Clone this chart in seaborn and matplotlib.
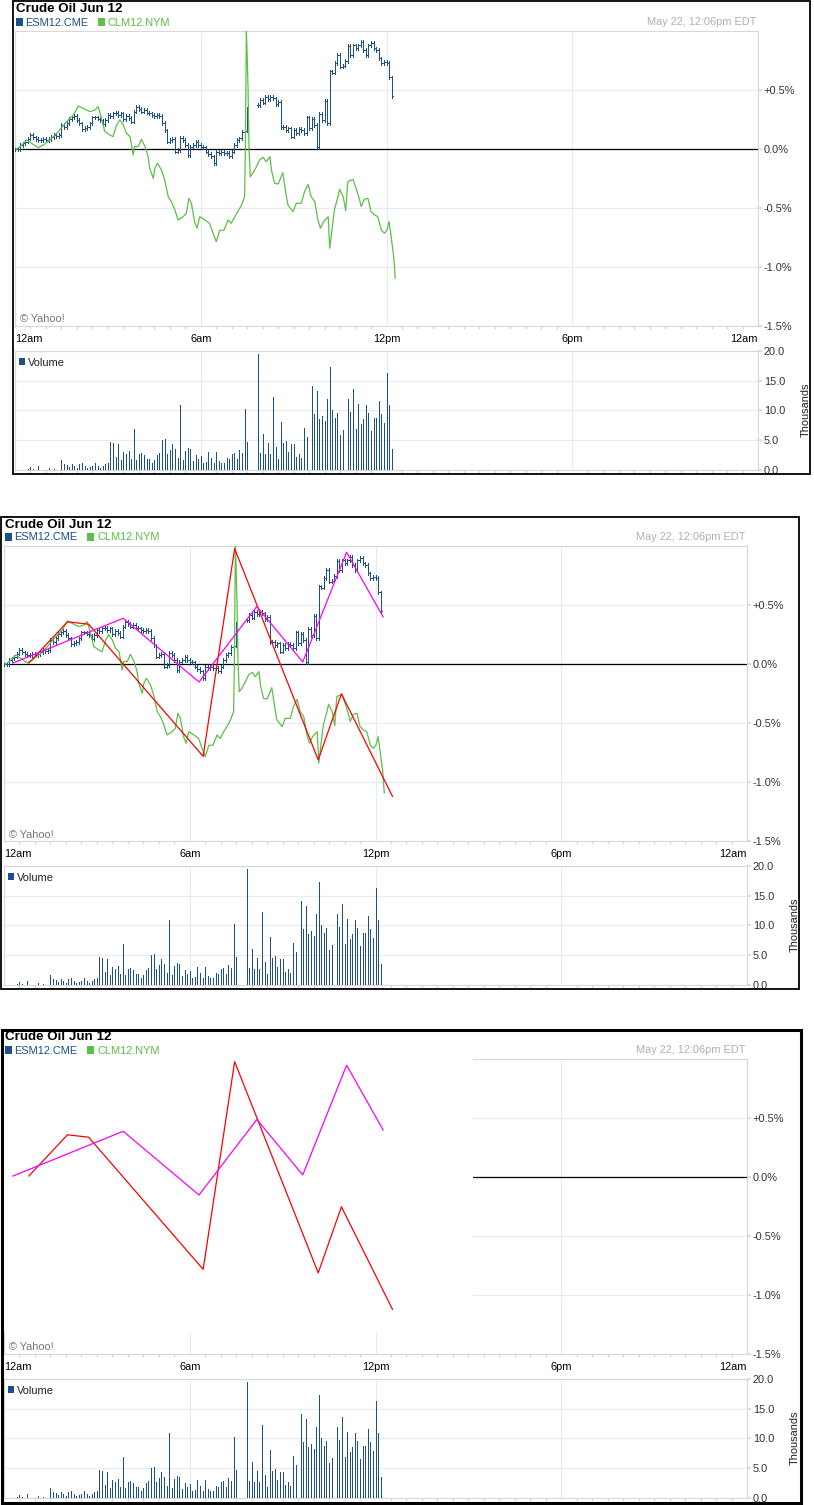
import numpy as np
import pandas as pd
import matplotlib
matplotlib.use("Agg")
import matplotlib.pyplot as plt
import matplotlib.transforms as mtransforms
from matplotlib.patches import Rectangle
import seaborn as sns

W, H = 814, 1505

# ---- data ----
bar_minutes = 5  # ESM12 bars and volume bars are 5-minute bars from 12am

esm_close = [
    0.0, 0.0, 0.037, 0.05, 0.065, 0.09, 0.12, 0.10, 0.085, 0.075,
    0.08, 0.085, 0.08, 0.085, 0.105, 0.12, 0.11, 0.12, 0.205, 0.19,
    0.225, 0.255, 0.27, 0.28, 0.25, 0.22, 0.17, 0.18, 0.19, 0.22,
    0.27, 0.27, 0.26, 0.245, 0.215, 0.25, 0.29, 0.28, 0.305, 0.31,
    0.29, 0.305, 0.255, 0.28, 0.265, 0.235, 0.32, 0.36, 0.34, 0.32,
    0.335, 0.31, 0.305, 0.29, 0.28, 0.29, 0.28, 0.225, 0.16, 0.065,
    0.08, 0.085, -0.02, -0.005, 0.095, 0.08, 0.037, -0.048, 0.023, 0.037,
    0.065, 0.037, 0.023, 0.017, -0.02, -0.04, -0.06, -0.12, -0.02, -0.03,
    -0.02, -0.034, -0.03, -0.056, -0.02, 0.037, 0.08, 0.093, 0.15, 0.158,
    0.347, np.nan, np.nan, np.nan, 0.375, 0.42, 0.395, 0.446, 0.424, 0.446,
    0.432, 0.384, 0.40, 0.19, 0.19, 0.164, 0.178, 0.107, 0.164, 0.136,
    0.17, 0.164, 0.136, 0.27, 0.178, 0.26, 0.206, 0.02, 0.30, 0.25,
    0.41, 0.22, 0.66, 0.65, 0.73, 0.80, 0.70, 0.71, 0.75, 0.875,
    0.80, 0.88, 0.855, 0.88, 0.91, 0.84, 0.80, 0.88, 0.90, 0.855,
    0.84, 0.77, 0.73, 0.74, 0.73, 0.61, 0.45,
]

volume_k = [
    0, 0, 0, 0, 0, 0.1, 0.5, 0.2, 0, 0.7,
    0, 0, 0, 0.3, 0, 0.2, 0, 0, 1.7, 1.0,
    0.8, 0.45, 1.0, 0.7, 0.35, 1.05, 1.2, 0.7, 0.4, 0.45,
    0.6, 1.1, 0.7, 0.4, 0.7, 1.0, 1.2, 4.7, 4.5, 2.2,
    4.3, 1.7, 3.0, 2.7, 3.2, 1.9, 6.9, 1.7, 2.6, 2.85,
    2.5, 1.85, 1.9, 1.2, 1.7, 2.5, 2.8, 5.0, 5.2, 2.6,
    3.35, 4.35, 3.6, 2.05, 10.9, 1.7, 3.2, 3.7, 3.6, 1.5,
    2.45, 1.85, 2.35, 1.2, 1.3, 3.0, 2.0, 1.2, 3.1, 1.45,
    1.1, 1.2, 1.95, 1.85, 2.6, 2.85, 1.9, 3.35, 2.85, 10.2,
    4.7, 0, 0, 0, 19.4, 2.85, 6.0, 2.7, 4.5, 2.7,
    12.2, 3.85, 1.85, 8.0, 4.5, 4.9, 3.0, 4.35, 4.35, 2.2,
    2.7, 2.0, 7.0, 5.5, 0, 14.1, 9.4, 13.2, 8.5, 9.0,
    8.2, 11.9, 17.3, 10.1, 8.7, 9.5, 5.9, 6.7, 0, 11.9,
    9.8, 13.6, 6.9, 11.1, 7.7, 8.5, 10.9, 9.5, 6.5, 8.8,
    8.7, 11.5, 9.4, 7.9, 16.3, 10.9, 3.5,
]

clm_minutes = [
    2, 10, 23, 32, 45, 55, 68, 84, 100, 113, 123, 132, 145, 155, 161, 165,
    174, 184, 190, 197, 203, 210, 216, 223, 229, 232, 239, 245, 252, 258,
    261, 268, 271, 276, 284, 290, 297, 303, 310, 316, 326, 332, 337, 342,
    348, 353, 358, 368, 377, 384, 390, 397, 405, 413, 419, 426, 432, 439,
    445, 446.5, 448.4, 449.7, 451.6, 453.5, 456, 461, 468, 474, 481, 487,
    494, 497, 503, 510, 519, 525, 529, 539, 545, 555, 561, 568, 574, 581,
    587, 592, 598, 607, 610, 615, 619, 626, 629, 636, 641, 645, 655, 661,
    668, 671, 677, 684, 690, 697, 703, 710, 716, 721, 725, 729, 734, 737,
]
clm_pct = [
    0.0, 0.023, 0.079, 0.051, 0.014, 0.037, 0.079, 0.15, 0.234, 0.291,
    0.367, 0.347, 0.319, 0.333, 0.362, 0.305, 0.15, 0.121, 0.107, 0.206,
    0.249, 0.206, 0.136, 0.107, -0.048, 0.023, 0.023, 0.085, 0.023, -0.062,
    -0.161, -0.246, -0.161, -0.119, -0.175, -0.26, -0.401, -0.444, -0.514, -0.599,
    -0.571, -0.542, -0.415, -0.458, -0.613, -0.669, -0.571, -0.599, -0.627, -0.712,
    -0.782, -0.686, -0.686, -0.599, -0.627, -0.571, -0.528, -0.471, -0.401, 0.023,
    1.0, 0.842, 0.531, 0.023, -0.232, -0.203, -0.147, -0.09, -0.068, -0.105,
    -0.062, -0.175, -0.288, -0.294, -0.198, -0.373, -0.472, -0.528, -0.458, -0.458,
    -0.359, -0.297, -0.401, -0.444, -0.599, -0.669, -0.613, -0.571, -0.839, -0.655,
    -0.514, -0.401, -0.339, -0.401, -0.52, -0.274, -0.254, -0.331, -0.429, -0.486,
    -0.424, -0.415, -0.528, -0.556, -0.571, -0.684, -0.712, -0.684, -0.613, -0.74,
    -0.91, -1.093,
]

# hand-drawn zigzags (panels 2 and 3)
red_minutes = [48, 123, 164, 386, 447, 609, 654, 753]
red_pct = [0.01, 0.36, 0.34, -0.78, 0.98, -0.81, -0.25, -1.12]
magenta_minutes = [17, 231, 378, 490, 579, 664, 735]
magenta_pct = [0.01, 0.39, -0.15, 0.49, 0.02, 0.95, 0.40]

price_ticks = [-1.5, -1.0, -0.5, 0.0, 0.5]
price_tick_labels = ["-1.5%", "-1.0%", "-0.5%", "0.0%", "+0.5%"]
volume_ticks = [0, 5, 10, 15, 20]
volume_tick_labels = ["0.0", "5.0", "10.0", "15.0", "20.0"]
time_ticks = [0, 360, 720, 1080, 1440]
time_tick_labels = ["12am", "6am", "12pm", "6pm", "12am"]

title = "Crude Oil Jun 12"
legend_names = ["ESM12.CME", "CLM12.NYM"]
stamp = "May 22, 12:06pm EDT"

# ---- style ----
BLUE = "#1d4f8b"
GREEN = "#5cbf47"
GRID = "#e8ebf1"
BORDER = "#d8d8d8"
FS = 7.9
ONE_PX = 0.72  # points per pixel at dpi 100

sns.set_theme(style="white")
plt.rcParams["font.family"] = ["Liberation Sans", "DejaVu Sans"]

fig = plt.figure(figsize=(W / 100, H / 100), dpi=100)
fig.patch.set_facecolor("white")
px = mtransforms.Affine2D().scale(1.0 / W, -1.0 / H).translate(0, 1) + fig.transFigure


def add_ax(l, t, r, b):
    return fig.add_axes([l / W, 1 - b / H, (r - l) / W, (b - t) / H])


def style_axis(ax, yticks, ylabels):
    ax.set_xlim(0, 1440)
    ax.set_axisbelow(True)
    for s in ax.spines.values():
        s.set_color(BORDER)
        s.set_linewidth(0.8)
    ax.set_xticks(time_ticks)
    ax.set_xticks(np.arange(0, 1441, 30), minor=True)
    ax.set_yticks(yticks)
    ax.yaxis.tick_right()
    ax.set_yticklabels(ylabels)
    ax.grid(True, which="major", color=GRID, lw=0.8)
    ax.tick_params(axis="y", which="major", length=3, color=BORDER, pad=1.2,
                   labelsize=FS, labelcolor="#333333", right=True, left=False)
    ax.tick_params(axis="x", which="major", length=0, labelbottom=False)
    ax.tick_params(axis="x", which="minor", length=2.5, color=BORDER,
                   direction="out", bottom=True)
    ax.set_xlabel("")
    ax.set_ylabel("")


esm = pd.DataFrame({"minute": np.arange(len(esm_close)) * bar_minutes,
                    "close": esm_close})
esm["open"] = esm["close"].shift(1)
esm["open"] = esm["open"].fillna(esm["close"])
esm = esm.dropna(subset=["close"])
esm["high"] = esm[["open", "close"]].max(axis=1)
esm["low"] = esm[["open", "close"]].min(axis=1)

vol = pd.DataFrame({"minute": np.arange(len(volume_k)) * bar_minutes,
                    "volume": volume_k})
vol = vol[vol["volume"] > 0]

panels = [
    dict(dx=0, dy=0, frame=(13, 1, 810, 474), frame_lw=1.3, series=True, zigzag=False, mask=False),
    dict(dx=-11, dy=515, frame=(1, 517, 799, 989), frame_lw=1.3, series=True, zigzag=True, mask=False),
    dict(dx=-11, dy=1028, frame=(1.5, 1030, 801, 1503), frame_lw=2.2, series=False, zigzag=True, mask=True),
]

for p in panels:
    dx, dy = p["dx"], p["dy"]
    zero_y = 149.3 + dy
    ax = add_ax(15 + dx, zero_y - 118, 758 + dx, zero_y + 177)
    ax.set_ylim(-1.5, 1.0)
    style_axis(ax, price_ticks, price_tick_labels)
    ax.axhline(0, color="black", lw=0.9, zorder=2)

    if p["series"]:
        tick = 1.8
        ax.vlines(esm["minute"], esm["low"] - 0.015, esm["high"] + 0.015,
                  color=BLUE, lw=ONE_PX, zorder=3, antialiased=False)
        ax.hlines(esm["open"], esm["minute"] - tick, esm["minute"], color=BLUE,
                  lw=ONE_PX, zorder=3, antialiased=False)
        ax.hlines(esm["close"], esm["minute"], esm["minute"] + tick, color=BLUE,
                  lw=ONE_PX, zorder=3, antialiased=False)
        sns.lineplot(x=clm_minutes, y=clm_pct, ax=ax, color=GREEN, lw=0.9,
                     sort=False, estimator=None, zorder=3)

    if p["mask"]:
        ax.add_patch(Rectangle((-4, -1.31), 912, 2.36, facecolor="white",
                               edgecolor="none", zorder=2.7, clip_on=False))

    if p["zigzag"]:
        sns.lineplot(x=red_minutes, y=red_pct, ax=ax, color="#ff0000", lw=0.9,
                     sort=False, estimator=None, zorder=4)
        sns.lineplot(x=magenta_minutes, y=magenta_pct, ax=ax, color="#ff00ff", lw=0.9,
                     sort=False, estimator=None, zorder=4)
    ax.set_xlabel("")
    ax.set_ylabel("")

    # time labels between the price and volume plots
    tx = mtransforms.blended_transform_factory(ax.transData, px)
    for i, (tt, lab) in enumerate(zip(time_ticks, time_tick_labels)):
        ha = "left" if i == 0 else ("right" if i == len(time_ticks) - 1 else "center")
        fig.text(tt, 341.7 + dy, lab, transform=tx, fontsize=FS, color="black",
                 ha=ha, va="baseline")

    vax = add_ax(15 + dx, 350.7 + dy, 758 + dx, 470 + dy)
    vax.set_ylim(0, 20)
    style_axis(vax, volume_ticks, volume_tick_labels)
    vax.vlines(vol["minute"], 0, vol["volume"], color=BLUE, lw=ONE_PX, zorder=3,
               antialiased=False)

    # frame and texts
    l, t, r, b = p["frame"]
    fig.add_artist(Rectangle((l, t), r - l, b - t, transform=px, fill=False,
                             ec="black", lw=p["frame_lw"]))
    fig.text(16 + dx, 12.5 + dy, title, transform=px, fontsize=9.6, weight="bold",
             color="black", va="baseline", ha="left")
    fig.add_artist(Rectangle((16 + dx, 17.5 + dy), 7, 8, transform=px, color=BLUE, lw=0))
    fig.text(25 + dx, 25.5 + dy, legend_names[0], transform=px, fontsize=FS,
             color=BLUE, va="baseline", ha="left")
    fig.add_artist(Rectangle((98 + dx, 17.5 + dy), 7, 8, transform=px, color=GREEN, lw=0))
    fig.text(108 + dx, 25.5 + dy, legend_names[1], transform=px, fontsize=FS,
             color=GREEN, va="baseline", ha="left")
    fig.text(756 + dx, 25 + dy, stamp, transform=px, fontsize=FS,
             color="#b0b0b0", va="baseline", ha="right")
    fig.text(20 + dx, 322.5 + dy, "\u00a9 Yahoo!", transform=px, fontsize=FS,
             color="#777777", va="baseline", ha="left")
    fig.add_artist(Rectangle((19 + dx, 358 + dy), 6, 7, transform=px, color=BLUE, lw=0))
    fig.text(28 + dx, 366 + dy, "Volume", transform=px, fontsize=FS,
             color="#222222", va="baseline", ha="left")
    fig.text(806 + dx, 410 + dy, "Thousands", transform=px, fontsize=FS,
             color="#222222", va="center", ha="center", rotation=90)

fig.savefig("out.png", dpi=100, facecolor="white")
plt.close(fig)
